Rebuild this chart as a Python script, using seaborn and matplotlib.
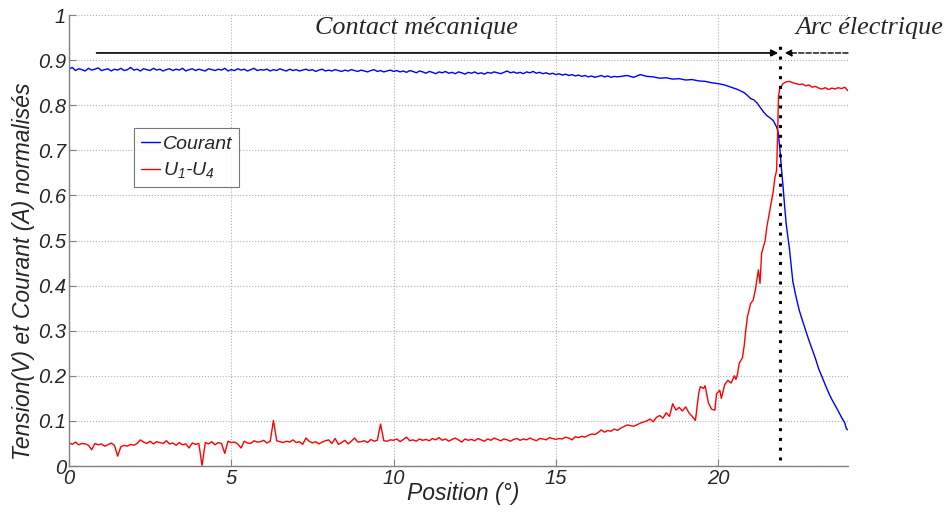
import numpy as np
import pandas as pd
import matplotlib
matplotlib.use('Agg')
import matplotlib.pyplot as plt
import seaborn as sns

# ---- data ----
# flat part, sampled every 0.1 deg from 0 to 16.9
flat_start = 0.0
flat_step = 0.1

red_flat = [
    0.052, 0.048, 0.053, 0.047, 0.050, 0.049, 0.046, 0.036, 0.050, 0.047,
    0.049, 0.044, 0.047, 0.051, 0.046, 0.022, 0.043, 0.046, 0.044, 0.048,
    0.046, 0.050, 0.058, 0.053, 0.050, 0.055, 0.049, 0.054, 0.052, 0.050,
    0.056, 0.049, 0.051, 0.046, 0.052, 0.047, 0.049, 0.040, 0.051, 0.048,
    0.050, 0.001, 0.052, 0.049, 0.054, 0.047, 0.052, 0.050, 0.028, 0.055,
    0.052, 0.053, 0.049, 0.040, 0.055, 0.051, 0.050, 0.056, 0.053, 0.054,
    0.057, 0.051, 0.055, 0.101, 0.056, 0.054, 0.052, 0.055, 0.053, 0.058,
    0.052, 0.054, 0.048, 0.062, 0.055, 0.051, 0.054, 0.049, 0.053, 0.056,
    0.058, 0.050, 0.061, 0.048, 0.052, 0.057, 0.049, 0.055, 0.062, 0.053,
    0.054, 0.056, 0.052, 0.059, 0.055, 0.057, 0.093, 0.056, 0.055, 0.058,
    0.057, 0.060, 0.054, 0.059, 0.064, 0.056, 0.058, 0.055, 0.060, 0.057,
    0.059, 0.056, 0.061, 0.058, 0.063, 0.057, 0.060, 0.055, 0.059, 0.062,
    0.058, 0.053, 0.060, 0.057, 0.059, 0.056, 0.061, 0.058, 0.055, 0.060,
    0.057, 0.062, 0.059, 0.056, 0.060, 0.058, 0.055, 0.059, 0.061, 0.057,
    0.060, 0.058, 0.062, 0.059, 0.056, 0.061, 0.060, 0.058, 0.063, 0.061,
    0.059, 0.061, 0.060, 0.064, 0.062, 0.058, 0.065, 0.063, 0.066, 0.064,
    0.068, 0.071, 0.070, 0.074, 0.080, 0.075, 0.079, 0.077, 0.082, 0.079,
]

blue_flat = [
    0.880, 0.884, 0.877, 0.881, 0.879, 0.876, 0.882, 0.878, 0.880, 0.883,
    0.877, 0.879, 0.881, 0.876, 0.880, 0.878, 0.882, 0.877, 0.879, 0.884,
    0.878, 0.880, 0.876, 0.881, 0.879, 0.877, 0.882, 0.878, 0.880, 0.876,
    0.879, 0.881, 0.877, 0.880, 0.878, 0.882, 0.876, 0.879, 0.881, 0.877,
    0.880, 0.878, 0.876, 0.881, 0.879, 0.877, 0.880, 0.878, 0.882, 0.876,
    0.879, 0.877, 0.881, 0.878, 0.880, 0.876, 0.879, 0.882, 0.877, 0.879,
    0.878, 0.880, 0.876, 0.879, 0.877, 0.881, 0.878, 0.876, 0.880, 0.877,
    0.879, 0.876, 0.878, 0.880, 0.877, 0.879, 0.875, 0.878, 0.880, 0.876,
    0.878, 0.876, 0.879, 0.877, 0.875, 0.878, 0.876, 0.879, 0.877, 0.875,
    0.878, 0.876, 0.874, 0.877, 0.879, 0.875, 0.877, 0.874, 0.876, 0.878,
    0.875, 0.877, 0.874, 0.876, 0.873, 0.877, 0.875, 0.872, 0.876, 0.874,
    0.871, 0.875, 0.873, 0.870, 0.874, 0.872, 0.875, 0.871, 0.873, 0.870,
    0.874, 0.872, 0.869, 0.873, 0.871, 0.874, 0.870, 0.872, 0.869, 0.873,
    0.871, 0.874, 0.872, 0.870, 0.873, 0.876, 0.872, 0.874, 0.871, 0.873,
    0.870, 0.874, 0.872, 0.875, 0.871, 0.873, 0.870, 0.872, 0.869, 0.871,
    0.868, 0.870, 0.867, 0.869, 0.866, 0.868, 0.865, 0.867, 0.864, 0.866,
    0.863, 0.865, 0.862, 0.864, 0.866, 0.863, 0.865, 0.862, 0.864, 0.863,
]

# end part, read point by point
red_pos_end = [17.0, 17.2, 17.4, 17.6, 17.8, 17.9, 18.0, 18.1, 18.2, 18.3, 18.4,
               18.5, 18.6, 18.7, 18.8, 18.9, 19.0, 19.1, 19.2, 19.3, 19.4, 19.45,
               19.55, 19.6, 19.7, 19.8, 19.9, 19.95, 20.05, 20.1, 20.2, 20.3,
               20.4, 20.5, 20.55, 20.6, 20.65, 20.75, 20.8, 20.85, 20.9, 21.0,
               21.08, 21.15, 21.24, 21.29, 21.34, 21.45, 21.5, 21.6, 21.7,
               21.75, 21.8, 21.82, 21.84, 21.86, 21.9, 22.0, 22.1, 22.2, 22.3,
               22.4, 22.5, 22.6, 22.7, 22.8, 22.9, 23.0, 23.1, 23.2, 23.3, 23.4,
               23.5, 23.6, 23.7, 23.8, 23.9, 24.0]
red_val_end = [0.084, 0.091, 0.088, 0.095, 0.100, 0.104, 0.098, 0.108, 0.112,
               0.106, 0.118, 0.110, 0.138, 0.124, 0.130, 0.122, 0.131, 0.118,
               0.110, 0.101, 0.160, 0.176, 0.172, 0.178, 0.140, 0.126, 0.124,
               0.160, 0.168, 0.150, 0.180, 0.190, 0.184, 0.200, 0.192, 0.205,
               0.228, 0.240, 0.265, 0.300, 0.330, 0.360, 0.368, 0.392, 0.435,
               0.405, 0.472, 0.500, 0.530, 0.570, 0.610, 0.640, 0.655, 0.700,
               0.760, 0.820, 0.838, 0.848, 0.852, 0.853, 0.850, 0.848, 0.846,
               0.847, 0.843, 0.845, 0.840, 0.842, 0.838, 0.836, 0.839, 0.835,
               0.838, 0.836, 0.839, 0.837, 0.840, 0.832]

blue_pos_end = [17.0, 17.2, 17.4, 17.6, 17.7, 17.8, 18.0, 18.2, 18.4, 18.6, 18.8,
                19.0, 19.2, 19.4, 19.6, 19.8, 20.0, 20.2, 20.4, 20.6, 20.8, 20.9,
                21.0, 21.1, 21.2, 21.3, 21.4, 21.5, 21.6, 21.7, 21.8, 21.85,
                21.9, 21.95, 22.0, 22.05, 22.1, 22.2, 22.3, 22.4, 22.5, 22.6,
                22.7, 22.8, 22.9, 23.0, 23.1, 23.2, 23.3, 23.4, 23.5, 23.6, 23.7,
                23.8, 23.9, 23.95, 24.0]
blue_val_end = [0.864, 0.866, 0.862, 0.868, 0.866, 0.864, 0.863, 0.860, 0.861,
                0.858, 0.859, 0.856, 0.857, 0.854, 0.853, 0.850, 0.848, 0.845,
                0.840, 0.835, 0.828, 0.822, 0.815, 0.812, 0.805, 0.795, 0.785,
                0.777, 0.772, 0.766, 0.752, 0.740, 0.705, 0.660, 0.620, 0.575,
                0.535, 0.480, 0.410, 0.375, 0.345, 0.322, 0.300, 0.278, 0.258,
                0.238, 0.215, 0.198, 0.180, 0.163, 0.148, 0.135, 0.122, 0.108,
                0.096, 0.083, 0.080]

x_ticks = [0, 5, 10, 15, 20]
y_ticks = [0, 0.1, 0.2, 0.3, 0.4, 0.5, 0.6, 0.7, 0.8, 0.9, 1]
switch_pos = 21.9
arrow_level = 0.916

# ---- build frames ----
flat_pos = [round(flat_start + i * flat_step, 2) for i in range(len(red_flat))]
red = pd.DataFrame({'pos': flat_pos + red_pos_end, 'val': red_flat + red_val_end})
blue = pd.DataFrame({'pos': flat_pos + blue_pos_end, 'val': blue_flat + blue_val_end})

sns.set_style('white')
plt.rcParams['font.family'] = ['Liberation Sans', 'DejaVu Sans']
plt.rcParams['font.style'] = 'italic'
plt.rcParams['mathtext.fontset'] = 'custom'
plt.rcParams['mathtext.it'] = 'Liberation Sans:italic'
plt.rcParams['mathtext.rm'] = 'Liberation Sans:italic'

fig = plt.figure(figsize=(9.5, 5.13), dpi=100)
ax = fig.add_axes([0.0726, 0.0916, 0.82, 0.879])

sns.lineplot(data=blue, x='pos', y='val', ax=ax, color='#0000ff', lw=1.0,
             estimator=None, sort=False, label='Courant')
sns.lineplot(data=red, x='pos', y='val', ax=ax, color='#ff0000', lw=1.0,
             estimator=None, sort=False, label='$U_1$-$U_4$')

ax.set_xlim(0, 24)
ax.set_ylim(0, 1)
ax.set_xticks(x_ticks)
ax.set_yticks(y_ticks)
ax.set_yticklabels([f'{v:g}' for v in y_ticks])
ax.grid(True, ls=':', color='#b0b0b0', lw=0.8)
for s in ['top', 'right']:
    ax.spines[s].set_visible(False)
for s in ['left', 'bottom']:
    ax.spines[s].set_color('#808080')
    ax.spines[s].set_linewidth(1.0)
ax.tick_params(direction='in', length=5, color='#808080', labelsize=14.5,
               left=True, bottom=True, pad=2)

ax.set_xlabel('Position (°)', fontsize=16.5)
ax.set_ylabel('Tension(V) et Courant (A) normalisés', fontsize=16.5)
ax.xaxis.set_label_coords(0.506, -0.035)
ax.yaxis.set_label_coords(-0.044, 0.432)

# phase markers
ax.axvline(switch_pos, ymin=0.013, ymax=0.935, color='black', ls=(0, (1, 2.2)), lw=2.2)
ax.annotate('', xy=(switch_pos - 0.05, arrow_level), xytext=(0.85, arrow_level),
            arrowprops=dict(arrowstyle='-|>', color='black', lw=1.2,
                            mutation_scale=10, shrinkA=0, shrinkB=0))
ax.annotate('', xy=(switch_pos + 0.15, arrow_level), xytext=(24, arrow_level),
            arrowprops=dict(arrowstyle='-|>', color='black', lw=1.0, ls='--',
                            mutation_scale=10, shrinkA=0, shrinkB=0),
            annotation_clip=False)
ax.text(10.72, 0.972, 'Contact mécanique', family='Liberation Serif', style='italic',
        fontsize=18.8, ha='center', va='center')
ax.text(24.65, 0.972, 'Arc électrique', family='Liberation Serif', style='italic',
        fontsize=18.8, ha='center', va='center', clip_on=False)

leg = ax.legend(loc='upper left', bbox_to_anchor=(0.0834, 0.749), fontsize=14,
                frameon=True, fancybox=False, handlelength=1.0, handletextpad=0.15,
                borderpad=0.35, labelspacing=0.4, borderaxespad=0)
leg.get_frame().set_edgecolor('#555555')
leg.get_frame().set_linewidth(0.8)

fig.savefig('out.png', dpi=100)
